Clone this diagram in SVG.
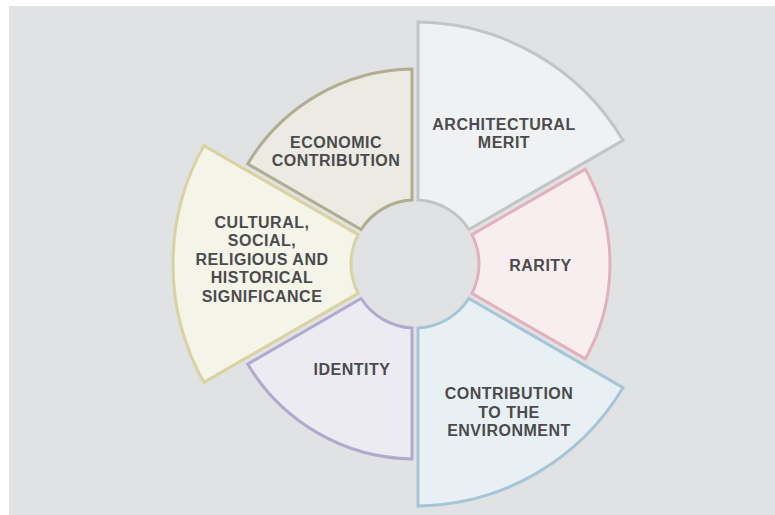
<svg xmlns="http://www.w3.org/2000/svg" xmlns:xlink="http://www.w3.org/1999/xlink" width="775" height="515" viewBox="0 0 775 515">
<style>
.seg{stroke-width:3;stroke-linejoin:miter}
.lbl{font-family:"Liberation Sans",Arial,sans-serif;font-weight:bold;font-size:16px;letter-spacing:0.5px;fill:#4b4b4d;text-anchor:middle}
</style>
<defs>
<path id="bigSeg" d="M418,22.02 A242,242 0 0 1 623.06,140.41 L468.87,229.43 A64,64 0 0 0 418,200.07 Z"/>
<path id="smallSeg" d="M585.36,169.11 A195,195 0 0 1 585.36,358.89 L471.86,293.37 A64,64 0 0 0 471.86,234.63 Z"/>
</defs>
<rect x="9" y="6" width="766" height="509" fill="#e1e2e3"/>
<g id="architectural-merit">
<use xlink:href="#bigSeg" class="seg" fill="#f0f1f3" stroke="#c3c4c6"/>
<text class="lbl" x="504" y="130">ARCHITECTURAL</text>
<text class="lbl" x="504" y="148">MERIT</text>
</g>
<g id="rarity">
<use xlink:href="#smallSeg" class="seg" fill="#f8eef0" stroke="#e3b1bc"/>
<text class="lbl" x="540.5" y="271">RARITY</text>
</g>
<g id="contribution-environment">
<use xlink:href="#bigSeg" class="seg" fill="#e9f0f3" stroke="#a5c6d6" transform="rotate(120 415 264)"/>
<text class="lbl" x="509" y="399">CONTRIBUTION</text>
<text class="lbl" x="509" y="417.5">TO THE</text>
<text class="lbl" x="509" y="436">ENVIRONMENT</text>
</g>
<g id="identity">
<use xlink:href="#smallSeg" class="seg" fill="#ecebf2" stroke="#b3a9ce" transform="rotate(120 415 264)"/>
<text class="lbl" x="352" y="375">IDENTITY</text>
</g>
<g id="cultural-significance">
<use xlink:href="#bigSeg" class="seg" fill="#f4f4e9" stroke="#d8d3a0" transform="rotate(240 415 264)"/>
<text class="lbl" x="262" y="227.5">CULTURAL,</text>
<text class="lbl" x="262" y="246">SOCIAL,</text>
<text class="lbl" x="262" y="264.5">RELIGIOUS AND</text>
<text class="lbl" x="262" y="283">HISTORICAL</text>
<text class="lbl" x="262" y="301.5">SIGNIFICANCE</text>
</g>
<g id="economic-contribution">
<use xlink:href="#smallSeg" class="seg" fill="#ebebe4" stroke="#b1ad8f" transform="rotate(240 415 264)"/>
<text class="lbl" x="336" y="147.5">ECONOMIC</text>
<text class="lbl" x="336" y="166">CONTRIBUTION</text>
</g>
<g id="connectors"></g>
</svg>
